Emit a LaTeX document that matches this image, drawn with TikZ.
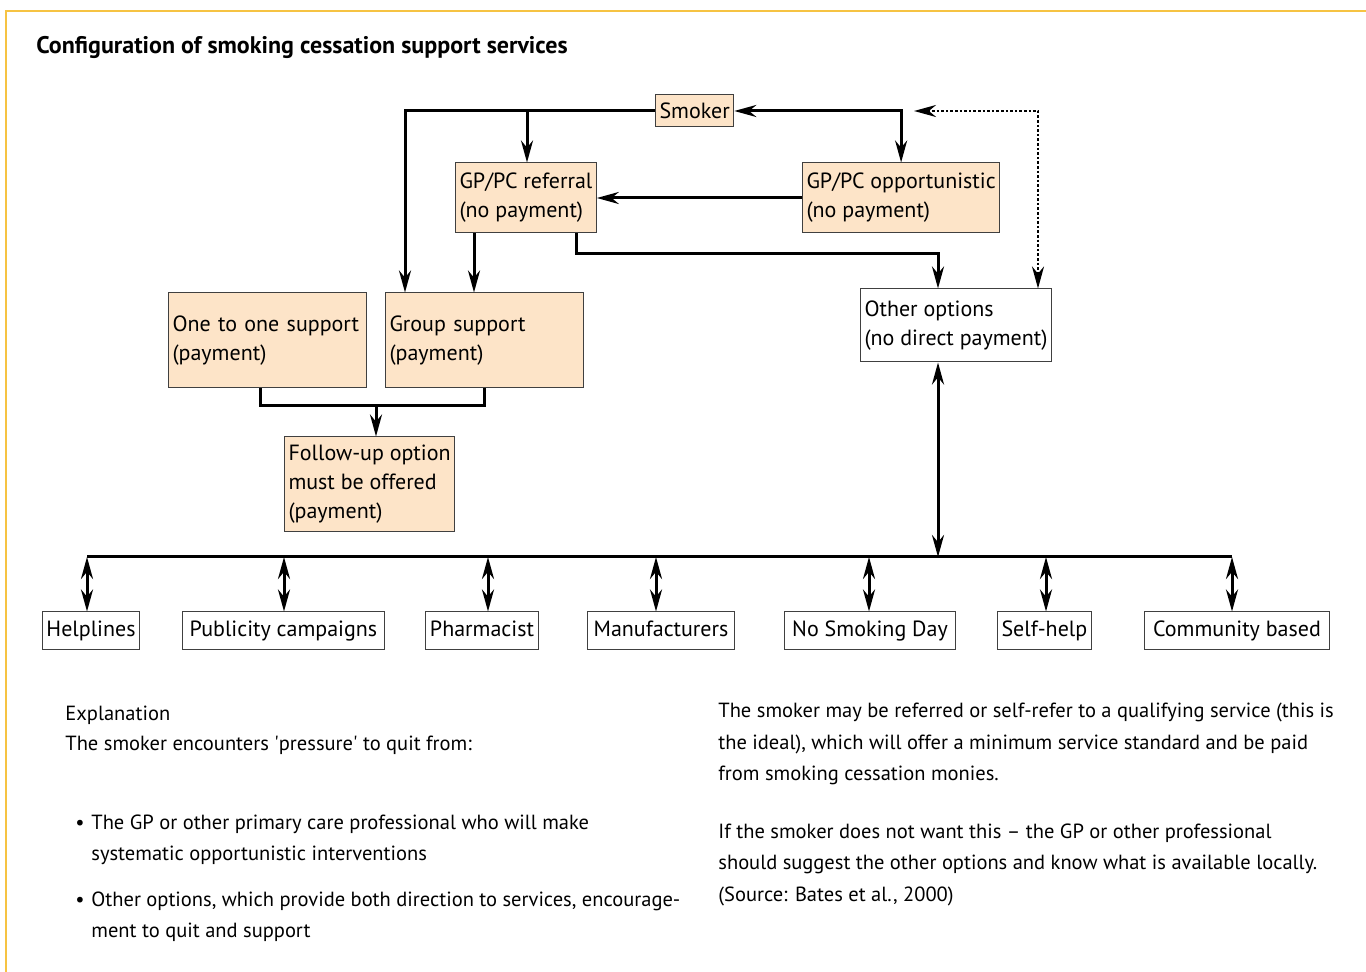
\documentclass[tikz,border=0pt]{standalone}
\usepackage{fontspec}
\setmainfont{PT Sans}
\usetikzlibrary{arrows.meta,positioning}
\definecolor{frameColor}{HTML}{F6C343}
\definecolor{boxFill}{HTML}{FDE4C8}
\colorlet{penColor}{black}
\newcommand\boxfont{\fontsize{11}{14.5}\selectfont}
\newcommand\notefont{\fontsize{10.25}{15.5}\selectfont}
\tikzset{>={Stealth[length=11pt,width=6pt]}}
\tikzset{
  box/.style={draw=black!75, line width=0.5pt, fill=boxFill, align=left,
    inner xsep=2pt, inner ysep=1pt, font=\boxfont, anchor=west},
  plainbox/.style={box, fill=white},
  tagbox/.style={plainbox, minimum height=19pt, text height=8pt, text depth=2.5pt},
  link/.style={line width=1.5pt, penColor},
  note/.style={anchor=base west, inner sep=0pt, font=\notefont},
}

\begin{document}
\begin{tikzpicture}[x=0.5pt,y=-0.5pt]
\useasboundingbox (0,0) rectangle (1366,972);
\draw[frameColor, line width=1pt] (6,972) -- (6,11) -- (1366,11);
\node [anchor=base west, inner sep=0pt, font=\fontsize{12}{14}\selectfont\bfseries] (title) at (36,54) {Configuration of smoking cessation support services};

% boxes
\node [box, minimum height=16pt] (smoker) at (655,111) {Smoker};
\node [box, minimum height=35pt] (referral) at (455,198) {GP/PC referral\\(no payment)};
\node [box, minimum height=35pt] (opport) at (802,198) {GP/PC opportunistic\\(no payment)};
\node [box, minimum height=47.5pt, text width=95pt] (onetoone) at (168,340.5) {One to one support\\(payment)};
\node [box, minimum height=47.5pt, text width=95pt] (group) at (385,340.5) {Group support\\(payment)};
\node [box, minimum height=47.5pt] (followup) at (284,484.5) {Follow-up option\\must be offered\\(payment)};
\node [plainbox, minimum height=36.5pt] (other) at (860,325.5) {Other options\\(no direct payment)};

\node [tagbox, minimum width=48.5pt] (help) at (42,631) {Helplines};
\node [tagbox, minimum width=101pt] (publicity) at (182,631) {Publicity campaigns};
\node [tagbox, minimum width=56.5pt] (pharm) at (425,631) {Pharmacist};
\node [tagbox, minimum width=73.5pt] (manuf) at (587,631) {Manufacturers};
\node [tagbox, minimum width=85.5pt] (nosmoke) at (784,631) {No Smoking Day};
\node [tagbox, minimum width=44pt] (selfhelp) at (997,631) {Self-help};
\node [tagbox, minimum width=92.5pt] (community) at (1144,631) {Community based};

% connectors
\coordinate (leftDown) at (405,111);
\coordinate (refIn) at (527,111);
\coordinate (refOut) at (474,0);
\coordinate (refOut2) at (576,254);
\coordinate (otherIn) at (938,254);
\coordinate (dotEnd) at (914,111);
\coordinate (dotDown) at (1038,111);
\coordinate (sup1) at (260,406);
\coordinate (sup2) at (484,406);
\coordinate (supMid) at (376,406);
\coordinate (busMid) at (938,557);
\coordinate (busL) at (87,557);
\coordinate (busR) at (1232,557);

\draw[link,->] (smoker.west) -| (leftDown |- group.north);
\draw[link,->] (refIn) -- (refIn |- referral.north);
\draw[link,<->] (smoker.east) -| (opport.north);
\draw[link,line width=1.3pt,densely dotted,<->] (dotEnd) -| (dotDown |- other.north);
\draw[link,->] (opport.west) -- (referral.east);
\draw[link,->] (refOut |- referral.south) -- (refOut |- group.north);
\draw[link,->] (refOut2 |- referral.south) -- (refOut2) -- (otherIn) -- (otherIn |- other.north);
\draw[link] (sup1 |- onetoone.south) -- (sup1) -- (sup2) -- (sup2 |- group.south);
\draw[link,->] (supMid) -- (supMid |- followup.north);
\draw[link,<->] (otherIn |- other.south) -- (busMid);
\draw[link] (busL) -- (busR);
\foreach \x/\n in {87/help,284/publicity,488/pharm,656/manuf,869/nosmoke,1046/selfhelp,1232/community}{
  \coordinate (b\n) at (\x,557);
  \draw[link,<->] (b\n) -- (b\n |- \n.north);
}

% explanation
\node [note] (expl) at (65,720) {Explanation};
\node [note] (explA) at (65,751) {The smoker encounters \textquotesingle pressure\textquotesingle{} to quit from:};
\node [note] (bulA) at (75,829) {\textbullet};
\node [note] (explB) at (91,829) {The GP or other primary care professional who will make};
\node [note] (explC) at (91,860) {systematic opportunistic interventions};
\node [note] (bulB) at (75,906) {\textbullet};
\node [note] (explD) at (91,906) {Other options, which provide both direction to services, encourage-};
\node [note] (explE) at (91,937) {ment to quit and support};

\node [note] (textA) at (718,718) {The smoker may be referred or self-refer to a qualifying service (this is};
\node [note] (textB) at (718,749) {the ideal), which will offer a minimum service standard and be paid};
\node [note] (textC) at (718,781) {from smoking cessation monies.};
\node [note] (textD) at (718,838) {If the smoker does not want this -- the GP or other professional};
\node [note] (textE) at (718,869) {should suggest the other options and know what is available locally.};
\node [note] (textF) at (718,901) {(Source: Bates et al., 2000)};
\end{tikzpicture}
\end{document}
